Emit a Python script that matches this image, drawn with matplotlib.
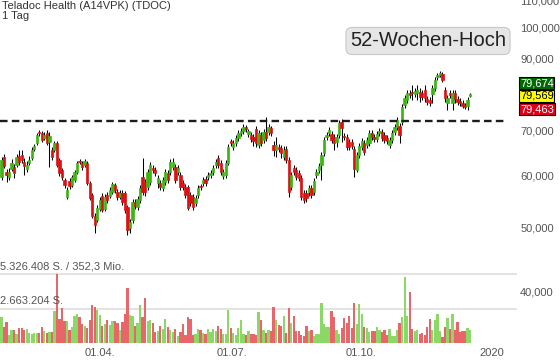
import matplotlib
matplotlib.use('Agg')
import matplotlib.pyplot as plt
import numpy as np
from matplotlib.ticker import NullLocator

plt.rcParams['font.family'] = ['Liberation Sans', 'DejaVu Sans']

# daily candles (EUR), Jan-Dec 2019
opens = [59.62, 63.90, 60.66, 59.62, 61.30, 61.73, 62.16, 64.13, 64.35, 62.80,
         61.30, 62.59, 63.68, 65.70, 67.09, 69.70, 69.46, 68.26, 69.46, 67.32,
         65.47, 65.47, 67.09, 63.23, 61.08, 58.99, 55.62, 58.79, 57.99, 58.99,
         60.66, 63.02, 62.59, 62.16, 62.59, 58.39, 56.01, 52.07, 51.34, 53.35,
         55.81, 53.35, 56.01, 55.81, 56.59, 57.99, 56.59, 55.62, 56.40, 56.40,
         53.72, 49.94, 51.34, 54.66, 53.72, 55.03, 59.62, 58.59, 57.58, 58.59,
         61.51, 61.08, 58.39, 58.39, 57.38, 58.59, 60.45, 60.66, 61.73, 61.73,
         60.66, 60.04, 58.39, 57.58, 57.58, 56.01, 55.62, 54.47, 56.01, 57.79,
         58.39, 59.20, 59.62, 60.04, 60.66, 62.16, 63.68, 62.59, 59.83, 60.04,
         62.59, 67.55, 66.16, 67.09, 68.26, 69.46, 69.94, 70.92, 69.22, 68.98,
         68.50, 70.43, 66.63, 68.98, 67.78, 69.70, 69.70, 70.68, 66.63, 65.47,
         66.16, 65.93, 63.90, 65.70, 63.23, 57.58, 61.51, 61.08, 60.45, 59.41,
         56.40, 56.40, 56.59, 57.38, 56.59, 60.04, 61.08, 62.16, 64.80, 68.50,
         69.46, 69.22, 68.50, 67.32, 68.98, 72.16, 68.74, 68.50, 67.32, 67.32,
         65.70, 61.08, 64.35, 66.16, 67.09, 66.63, 67.09, 69.46, 68.50, 68.02,
         69.46, 69.70, 68.98, 68.26, 66.63, 67.78, 69.70, 70.92, 71.17, 72.16,
         76.55, 77.88, 79.81, 80.08, 79.53, 79.81, 80.08, 79.81, 80.63, 78.16,
         77.88, 79.53, 81.20, 84.37, 84.96, 85.25, 80.63, 77.08, 79.81, 77.08,
         79.81, 78.16, 77.61, 77.08, 76.55, 76.28, 79.10]
highs = [63.90, 64.57, 61.30, 61.51, 63.45, 62.37, 64.57, 65.47, 65.47, 63.68,
         63.02, 64.13, 66.16, 66.86, 69.46, 70.18, 69.94, 69.70, 70.18, 69.70,
         66.16, 67.55, 67.55, 63.68, 61.51, 59.41, 57.58, 59.41, 60.04, 61.08,
         63.02, 63.45, 63.02, 63.45, 63.02, 58.79, 56.40, 52.61, 54.10, 55.62,
         56.40, 56.20, 56.59, 57.58, 58.59, 58.39, 57.18, 56.98, 56.98, 56.79,
         54.10, 51.52, 55.23, 55.23, 55.81, 57.99, 63.68, 59.20, 61.30, 62.80,
         62.16, 61.73, 60.04, 58.99, 59.62, 61.30, 61.08, 63.45, 63.68, 62.37,
         62.16, 60.66, 58.99, 58.19, 57.99, 56.59, 56.20, 56.01, 57.99, 58.19,
         59.62, 59.83, 60.66, 61.08, 62.16, 63.45, 64.35, 63.23, 61.30, 63.23,
         66.86, 68.02, 67.78, 68.98, 70.18, 70.68, 71.67, 71.42, 70.43, 69.70,
         69.22, 71.17, 70.18, 69.70, 70.43, 73.43, 71.67, 71.17, 67.55, 68.50,
         66.86, 66.63, 66.39, 66.39, 63.90, 60.66, 62.16, 61.73, 61.08, 60.04,
         56.98, 56.98, 57.99, 57.99, 59.41, 61.30, 62.59, 65.02, 68.50, 69.70,
         70.92, 69.94, 69.22, 69.22, 72.66, 72.92, 69.46, 69.22, 68.02, 68.02,
         66.39, 65.02, 67.09, 68.26, 67.78, 68.50, 70.18, 70.18, 69.22, 69.94,
         70.68, 70.43, 69.70, 68.98, 68.50, 70.18, 71.67, 73.43, 71.92, 76.82,
         79.26, 80.63, 80.63, 82.06, 81.20, 82.06, 81.20, 80.63, 82.06, 78.98,
         78.71, 82.06, 84.37, 85.55, 86.13, 85.84, 81.49, 79.26, 80.63, 80.63,
         80.63, 78.98, 78.43, 77.88, 77.08, 78.71, 79.90]
lows = [58.99, 61.51, 58.59, 58.99, 60.87, 59.41, 61.73, 62.16, 62.59, 60.04,
        60.66, 62.16, 63.23, 65.25, 66.63, 68.74, 67.32, 67.78, 66.63, 61.73,
        63.23, 65.02, 61.73, 59.83, 58.99, 57.38, 55.23, 57.18, 57.58, 58.59,
        60.24, 62.37, 61.08, 61.73, 57.99, 55.03, 51.70, 49.08, 50.99, 52.98,
        52.80, 52.98, 54.47, 55.42, 56.20, 56.40, 55.03, 55.23, 54.10, 52.61,
        48.75, 49.08, 50.82, 53.35, 53.16, 54.47, 56.01, 55.81, 56.98, 57.99,
        60.45, 59.83, 57.38, 56.98, 56.79, 57.99, 58.39, 60.04, 61.08, 58.39,
        60.04, 56.98, 56.98, 55.42, 53.16, 53.91, 53.16, 53.91, 55.42, 56.98,
        57.79, 57.79, 58.99, 59.41, 60.04, 61.51, 61.51, 60.04, 59.20, 59.41,
        62.16, 66.39, 65.47, 66.39, 67.55, 68.74, 69.22, 69.70, 68.50, 67.32,
        66.39, 66.16, 65.93, 66.39, 67.09, 67.55, 68.98, 68.74, 64.13, 63.90,
        65.02, 63.68, 63.23, 62.59, 55.62, 56.98, 60.04, 58.99, 58.79, 55.03,
        54.47, 54.66, 55.81, 55.42, 56.01, 59.41, 60.45, 58.99, 64.13, 67.78,
        68.74, 67.09, 65.47, 66.16, 68.26, 67.32, 67.78, 65.47, 65.47, 65.70,
        59.62, 60.66, 63.68, 65.47, 64.35, 65.93, 66.39, 67.78, 67.32, 67.32,
        68.74, 67.55, 67.09, 66.86, 65.93, 67.09, 68.98, 70.18, 67.09, 71.42,
        75.75, 77.08, 78.43, 77.88, 78.71, 77.88, 77.35, 77.88, 77.35, 76.55,
        76.28, 77.08, 80.36, 83.48, 84.37, 82.91, 77.35, 75.22, 78.43, 75.22,
        77.08, 76.55, 76.28, 75.75, 75.49, 75.22, 78.80]
closes = [63.23, 61.94, 60.04, 60.66, 62.59, 60.45, 63.90, 62.80, 63.23, 61.94,
          62.16, 63.23, 65.47, 66.39, 68.98, 69.46, 67.78, 68.98, 67.09, 68.74,
          63.90, 67.09, 62.16, 60.45, 59.62, 57.99, 56.98, 57.79, 59.62, 60.66,
          62.59, 62.80, 61.73, 63.02, 58.39, 55.42, 52.07, 50.47, 53.53, 55.03,
          53.16, 55.62, 55.03, 56.98, 58.19, 56.98, 55.62, 56.40, 54.66, 53.16,
          49.59, 50.99, 54.66, 53.91, 55.23, 57.38, 56.59, 56.59, 60.66, 62.16,
          61.08, 60.45, 59.41, 57.58, 58.99, 60.66, 58.99, 62.80, 62.80, 58.99,
          61.51, 57.58, 57.58, 56.01, 53.53, 54.47, 53.72, 55.42, 57.38, 57.58,
          58.99, 58.39, 60.04, 60.45, 61.51, 62.80, 62.16, 60.66, 60.66, 62.59,
          66.16, 67.09, 67.09, 68.26, 69.46, 69.94, 70.92, 70.43, 69.94, 68.02,
          67.55, 67.09, 69.46, 67.09, 69.70, 68.26, 70.92, 69.46, 65.47, 66.63,
          65.70, 64.80, 65.47, 63.23, 56.59, 60.04, 60.66, 59.62, 59.41, 55.62,
          55.03, 55.42, 57.38, 56.01, 58.79, 60.66, 61.94, 64.35, 67.78, 68.98,
          70.18, 67.78, 67.09, 68.50, 71.92, 70.68, 68.50, 66.16, 66.16, 66.39,
          61.30, 64.35, 66.39, 67.55, 65.02, 67.78, 69.46, 68.50, 68.02, 69.22,
          69.94, 68.26, 67.78, 67.55, 67.78, 69.46, 70.92, 72.66, 68.98, 76.02,
          78.43, 79.81, 79.26, 79.81, 80.36, 80.63, 78.71, 78.71, 78.43, 77.35,
          77.08, 81.20, 83.48, 84.96, 85.55, 83.48, 78.43, 78.43, 79.26, 79.81,
          78.16, 77.35, 77.08, 76.28, 76.02, 77.88, 79.57]
# volume in thousand shares
volumes = [2010, 1227, 1592, 626, 966, 1018, 705, 1148, 1190, 1018,
           1070, 757, 705, 757, 809, 757, 1250, 914, 809, 861,
           861, 2453, 5326.408, 1853, 2714, 1697, 1670, 966, 1227, 2114,
           2219, 2010, 1436, 1331, 1148, 1749, 2897, 2793, 2584, 2167,
           1331, 1436, 1749, 1409, 1697, 1697, 1540, 1018, 1644, 2271,
           4280, 2167, 2114, 1331, 1540, 2897, 2010, 3500, 1670, 1749,
           1540, 861, 888, 1331, 1070, 1853, 1227, 966, 861, 1070,
           548, 861, 1500, 626, 2010, 1853, 626, 705, 1070, 1018,
           757, 705, 1070, 861, 1070, 888, 1331, 1070, 705, 705,
           2531, 1148, 809, 600, 1148, 1749, 705, 626, 888, 705,
           705, 626, 2375, 1749, 1018, 757, 966, 888, 2793, 1749,
           1409, 1331, 2062, 757, 2714, 1540, 2062, 888, 888, 626,
           548, 1331, 888, 966, 522, 705, 680, 3082, 1436, 1227,
           1227, 2505, 2010, 1018, 705, 1148, 1958, 1540, 2114, 1148,
           3054, 1488, 2975, 2219, 1227, 1148, 861, 888, 888, 1227,
           1018, 861, 966, 626, 1070, 522, 522, 1018, 1540, 2010,
           5064, 2114, 3941, 1070, 888, 1018, 705, 809, 626, 1227,
           1853, 966, 1749, 2271, 888, 470, 1227, 1958, 1070, 2271,
           966, 1592, 861, 888, 888, 1148, 1018]

tick_labels = ['01.04.', '01.07.', '01.10.', '2020']
price_ticks = [40, 50, 60, 70, 90, 100, 110]
level_52w = 72.4
quote_boxes = [('79,674', '#006a00', 'white'),
               ('79,569', '#ffff00', 'black'),
               ('79,463', '#e0001b', 'white')]
vol_max_label = '5.326.408 S. / 352,3 Mio.'
vol_half_label = '2.663.204 S.'

o = np.array(opens); h = np.array(highs); l = np.array(lows); c = np.array(closes)
v = np.array(volumes)
n = len(c)
x = np.arange(n)
up = c >= o

W, H = 560, 363
fig = plt.figure(figsize=(W / 100, H / 100), dpi=100)

# price panel covers the whole picture, volume panel sits on top of its lower part
ax = fig.add_axes([0, 0, 516 / W, 1])
ax.set_yscale('log')
ax.set_ylim(31.25, 110.2)
ax.set_xlim(-0.6, 204.2)
for s in ax.spines.values():
    s.set_visible(False)

ax.vlines(x, l, h, color='black', lw=0.75, zorder=2)
body_col = np.where(up, '#3cb412', '#dc1212')
ax.bar(x, np.abs(c - o), bottom=np.minimum(o, c), width=0.92,
       color=body_col, edgecolor=body_col, linewidth=0.5, zorder=3)

ax.axhline(level_52w, xmin=0, xmax=505 / 516, color='#1c1c1c', lw=1.7,
           dashes=(3.2, 1.8), zorder=4)

ax.yaxis.tick_right()
ax.set_yticks(price_ticks)
ax.set_yticklabels([f'{p:.3f}'.replace('.', ',') for p in price_ticks])
ax.yaxis.set_minor_locator(NullLocator())
ax.tick_params(axis='y', length=0, pad=3, labelsize=8, labelcolor='#555555')

ax.set_xticks([39.1, 91.5, 142.7, 194.6])
ax.set_xticklabels(tick_labels)
ax.tick_params(axis='x', length=0, pad=-10.6, labelsize=8, labelcolor='#555555')

vax = fig.add_axes([0, 20 / H, 516 / W, 69 / H])
vax.set_xlim(ax.get_xlim())
vmax = v.max()
vax.set_ylim(0, vmax)
vax.axis('off')
vcol = np.where(up, '#8cd866', '#e8666a')
vax.bar(x, v, width=0.9, color=vcol, zorder=2)
for lev in (vmax, vmax / 2):
    vax.axhline(lev, color='#e0e0e0', lw=1.3, zorder=1, clip_on=False)
tr = vax.get_yaxis_transform()
vax.text(0.0, vmax * 1.03, vol_max_label, transform=tr, ha='left', va='bottom',
         fontsize=8, color='#555555')
vax.text(0.0, vmax / 2 * 1.06, vol_half_label, transform=tr, ha='left', va='bottom',
         fontsize=8, color='#555555')

fig.text(2 / W, 1 - 1 / H, 'Teladoc Health (A14VPK) (TDOC)', ha='left', va='top',
         fontsize=8, color='#333333')
fig.text(2 / W, 1 - 11 / H, '1 Tag', ha='left', va='top', fontsize=8, color='#333333')

fig.text(428 / W, 1 - 41 / H, '52-Wochen-Hoch', ha='center', va='center',
         fontsize=14.5, color='#222222',
         bbox=dict(boxstyle='round,pad=0.2,rounding_size=0.3', fc='#e6e6e6',
                   ec='#c8c8c8', lw=0.8))

for k, (txt, fc, tc) in enumerate(quote_boxes):
    fig.text(520 / W, 1 - (83 + 13 * k) / H, txt, ha='left', va='center',
             fontsize=8, color=tc,
             bbox=dict(boxstyle='square,pad=0.06', fc=fc, ec='black', lw=0.8))

fig.savefig('out.png', dpi=100)
